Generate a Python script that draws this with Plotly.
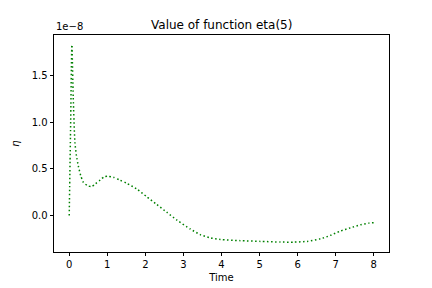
import plotly.graph_objects as go

# Time values and eta values (in units of 1e-8)
time = [0.0, 0.035, 0.07, 0.105, 0.15, 0.19, 0.24, 0.30, 0.37, 0.48, 0.59, 0.69, 0.81, 0.92,
        1.03, 1.16, 1.33, 1.51, 1.77, 2.04, 2.30, 2.56, 2.83, 3.18, 3.44, 3.70, 3.97,
        4.49, 5.02, 5.55, 5.90, 6.25, 6.60, 6.86, 7.12, 7.39, 7.65, 7.87, 8.0]
eta = [0.0, 0.92, 1.83, 1.27, 0.78, 0.64, 0.53, 0.43, 0.357, 0.32, 0.31, 0.34, 0.38, 0.415,
       0.42, 0.41, 0.38, 0.346, 0.285, 0.20, 0.118, 0.035, -0.05, -0.145, -0.205, -0.24, -0.257,
       -0.27, -0.278, -0.285, -0.286, -0.278, -0.25, -0.214, -0.168, -0.132, -0.10, -0.082, -0.078]

x_ticks = [0, 1, 2, 3, 4, 5, 6, 7, 8]
y_ticks = [0.0, 0.5, 1.0, 1.5]

font = "DejaVu Sans, sans-serif"

fig = go.Figure()
fig.add_trace(go.Scatter(
    x=time, y=eta, mode="lines",
    line=dict(color="#008000", width=1.5, dash="1.5px,2.5px", shape="spline", smoothing=0.6),
    showlegend=False, hoverinfo="skip",
))

ymin, ymax = min(eta), max(eta)
ypad = (ymax - ymin) * 0.05
fig.update_layout(
    width=432, height=288,
    margin=dict(l=54, r=43, t=35, b=36, autoexpand=False),
    paper_bgcolor="white", plot_bgcolor="white",
    font=dict(family=font, size=10, color="black"),
    xaxis=dict(range=[-0.4, 8.4], tickvals=x_ticks, ticktext=[str(v) for v in x_ticks],
               automargin=False,
               showgrid=False, zeroline=False, showline=True, linecolor="black", linewidth=0.8,
               mirror=True, ticks="outside", ticklen=3.5, tickwidth=0.8, tickcolor="black",
               title=dict(text="Time", font=dict(size=10), standoff=4)),
    yaxis=dict(range=[ymin - ypad, ymax + ypad], tickvals=y_ticks,
               ticktext=["%.1f" % v for v in y_ticks], automargin=False,
               showgrid=False, zeroline=False, showline=True, linecolor="black", linewidth=0.8,
               mirror=True, ticks="outside", ticklen=3.5, tickwidth=0.8, tickcolor="black",
               title=dict(text="<i>η</i>", font=dict(size=10), standoff=10)),
    annotations=[
        dict(text="Value of function eta(5)", xref="paper", yref="paper", x=0.5, y=1,
             xanchor="center", yanchor="bottom", yshift=1, showarrow=False, font=dict(size=12)),
        dict(text="1e−8", xref="paper", yref="paper", x=0, y=1, xanchor="left",
             yanchor="bottom", yshift=1, showarrow=False, font=dict(size=10)),
    ],
)

fig.write_html("out.html", config={"displayModeBar": False},
               post_script="document.body.style.margin='0';")
